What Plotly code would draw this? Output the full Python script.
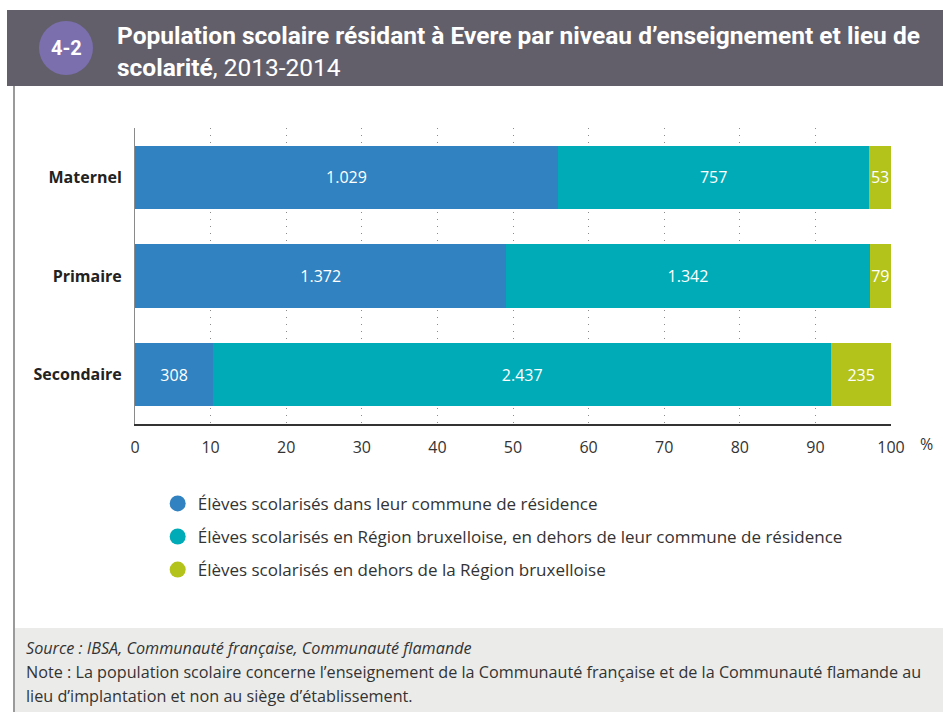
import plotly.graph_objects as go

categories = ["Maternel", "Primaire", "Secondaire"]
series_names = [
    "Élèves scolarisés dans leur commune de résidence",
    "Élèves scolarisés en Région bruxelloise, en dehors de leur commune de résidence",
    "Élèves scolarisés en dehors de la Région bruxelloise",
]
commune = [1029, 1372, 308]
region = [757, 1342, 2437]
hors_region = [53, 79, 235]
colors = ["#3182c0", "#00abb8", "#b3c31c"]
tick_vals = [0, 10, 20, 30, 40, 50, 60, 70, 80, 90, 100]

totals = [a + b + c for a, b, c in zip(commune, region, hors_region)]
series = [commune, region, hors_region]

def fmt(v):
    return f"{v:,}".replace(",", ".")

fig = go.Figure()
for i, (name, vals, col) in enumerate(zip(series_names, series, colors)):
    pct = [v / t * 100 for v, t in zip(vals, totals)]
    fig.add_trace(go.Bar(
        y=categories, x=pct, orientation="h", name=name,
        marker=dict(color=col, line=dict(width=0)),
        text=[fmt(v) for v in vals], textposition="inside",
        insidetextanchor="middle", textangle=0, constraintext="none",
        textfont=dict(color="white", size=16, family="Open Sans"),
        showlegend=False, hoverinfo="skip", cliponaxis=False,
    ))
    fig.add_trace(go.Scatter(
        x=[None], y=[None], mode="markers", name=name, legendgroup=f"g{i}",
        marker=dict(symbol="circle", size=20, color=col),
        showlegend=True,
    ))

fig.update_layout(
    width=943, height=712,
    barmode="stack", bargap=0.36,
    paper_bgcolor="white", plot_bgcolor="white",
    margin=dict(l=135, r=52, t=128, b=288),
    font=dict(family="Open Sans", color="#333333"),
    legend=dict(
        x=0.030, y=-0.209, xanchor="left", yanchor="top",
        font=dict(size=17, color="#333333", family="Open Sans"),
        itemsizing="trace", tracegroupgap=8, traceorder="grouped",
        bgcolor="rgba(0,0,0,0)",
    ),
)
fig.update_xaxes(
    range=[0, 100], tickvals=tick_vals, ticktext=[str(t) for t in tick_vals],
    showgrid=True, gridcolor="#8a8a8a", griddash="1px,6px", gridwidth=1,
    showline=True, linecolor="#333333", linewidth=1.5,
    tickfont=dict(size=16, color="#333333"), ticks="", zeroline=False,
    ticklabelstandoff=8,
)
fig.update_yaxes(
    autorange="reversed", showline=True, linecolor="#8a8a8a", linewidth=1,
    tickfont=dict(size=16, color="#222222", family="Open Sans", weight="bold"),
    ticks="", showgrid=False, ticklabelstandoff=9,
)

shapes = [
    dict(type="rect", xref="paper", yref="paper", xsizemode="pixel", ysizemode="pixel",
         xanchor=0, yanchor=1, x0=-128, x1=808, y0=118, y1=42,
         fillcolor="#625f6b", line=dict(width=0), layer="above"),
    dict(type="circle", xref="paper", yref="paper", xsizemode="pixel", ysizemode="pixel",
         xanchor=0, yanchor=1, x0=-96, x1=-42, y0=107, y1=53,
         fillcolor="#7b6fad", line=dict(width=0), layer="above"),
    dict(type="line", xref="paper", yref="paper", xsizemode="pixel", ysizemode="pixel",
         xanchor=0, yanchor=1, x0=-121, x1=-121, y0=42, y1=-586,
         line=dict(color="#9a9a9a", width=2)),
    dict(type="rect", xref="paper", yref="paper", xsizemode="pixel", ysizemode="pixel",
         xanchor=0, yanchor=1, x0=-120, x1=808, y0=-500, y1=-590,
         fillcolor="#ebecea", line=dict(width=0), layer="below"),
]
fig.update_layout(shapes=shapes)

title_font = dict(size=24.5, color="white", family="Roboto")
annotations = [
    dict(xref="paper", yref="paper", x=0, y=1, xshift=-69, yshift=80,
         xanchor="center", yanchor="middle",
         text="<b>4-2</b>", showarrow=False, font=dict(size=20, color="white", family="Roboto")),
    dict(xref="paper", yref="paper", x=0, y=1, xshift=-20, yshift=93, xanchor="left", yanchor="middle",
         text="<b>Population scolaire résidant à Evere par niveau d’enseignement et lieu de</b>",
         showarrow=False, font=title_font),
    dict(xref="paper", yref="paper", x=0, y=1, xshift=-20, yshift=61, xanchor="left", yanchor="middle",
         text="<b>scolarité</b>, 2013-2014",
         showarrow=False, font=title_font),
    dict(xref="paper", yref="paper", x=1, y=0, xshift=35, yshift=-20, xanchor="center", yanchor="middle",
         text="%", showarrow=False, font=dict(size=16, color="#333333")),
    dict(xref="paper", yref="paper", x=0, y=0, xshift=-111, yshift=-224, xanchor="left", yanchor="middle",
         text="<i>Source : IBSA, Communauté française, Communauté flamande</i>",
         showarrow=False, font=dict(size=16.2, color="#333333", family="Open Sans")),
    dict(xref="paper", yref="paper", x=0, y=0, xshift=-111, yshift=-248, xanchor="left", yanchor="middle",
         text="Note : La population scolaire concerne l’enseignement de la Communauté française et de la Communauté flamande au",
         showarrow=False, font=dict(size=16.2, color="#333333", family="Open Sans")),
    dict(xref="paper", yref="paper", x=0, y=0, xshift=-111, yshift=-272, xanchor="left", yanchor="middle",
         text="lieu d’implantation et non au siège d’établissement.",
         showarrow=False, font=dict(size=16.2, color="#333333", family="Open Sans")),
]
fig.update_layout(annotations=annotations)

fig.write_html("out.html")
